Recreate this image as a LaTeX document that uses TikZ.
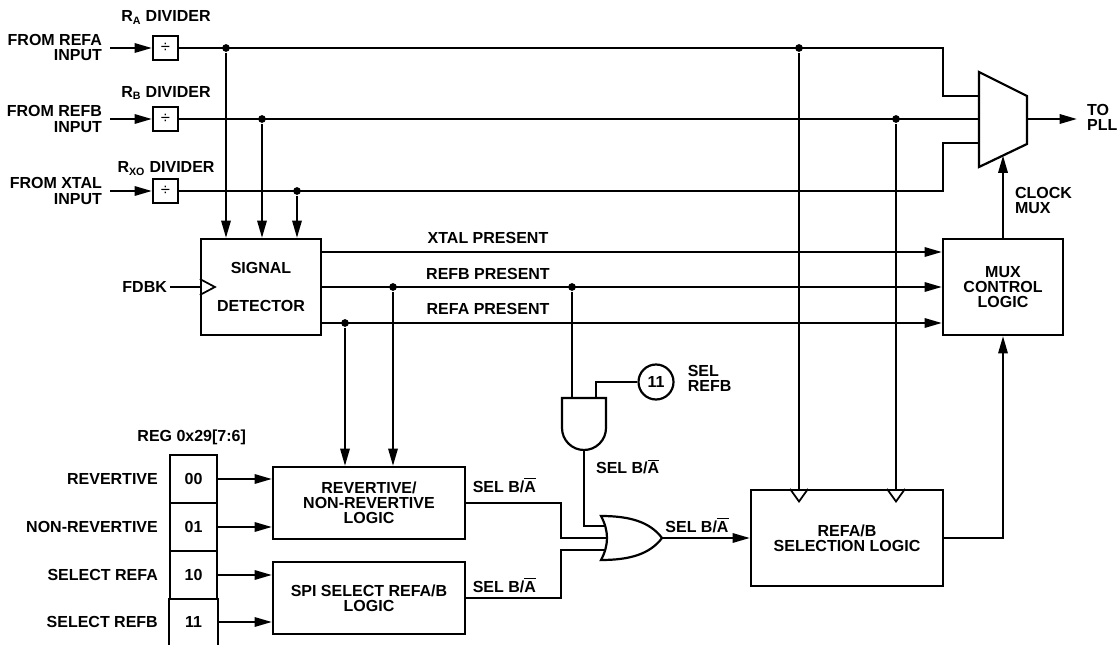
\documentclass[tikz,border=0pt]{standalone}
\usepackage{fontspec}
\setmainfont{Liberation Sans}
\usetikzlibrary{arrows.meta,calc}
\newcommand{\Abar}{\leavevmode\vbox{\hrule height 0.9pt\kern1.3pt\hbox{A}}}
\begin{document}
\begin{tikzpicture}[x=0.75pt,y=-0.75pt,line width=1.65pt,
  every node/.style={font=\fontsize{12}{11.3}\selectfont\bfseries,inner sep=0pt},
  blk/.style={draw,align=center},
  dot/.style={circle,fill,minimum size=5.8pt,inner sep=0pt},
  arr/.style={-{Triangle[length=13pt,width=7pt]}},
  divbox/.style={draw,minimum width=18.75pt,minimum height=18pt,font=\fontsize{12.5}{12.5}\selectfont},
  clk/.style={line width=1.3pt},
  cell/.style={draw,minimum width=35.25pt,minimum height=36pt}]
\useasboundingbox (0,0) rectangle (1117,645);

% ---------- dividers ----------
\node[divbox] (divA) at (165.5,48) {÷};
\node[divbox] (divB) at (165.5,119) {÷};
\node[divbox] (divX) at (165.5,191) {÷};
\node[anchor=base] (lblA) at (166,21.7) {R\textsubscript{A} DIVIDER};
\node[anchor=base] (lblB) at (166,97.3) {R\textsubscript{B} DIVIDER};
\node[anchor=base] (lblX) at (166,172.7) {R\textsubscript{XO} DIVIDER};
\node[align=right,anchor=east,inner xsep=5.25pt] (inA) at (110,47.5) {FROM REFA\\INPUT};
\node[align=right,anchor=east,inner xsep=5.25pt] (inB) at (110,119) {FROM REFB\\INPUT};
\node[align=right,anchor=east,inner xsep=5.25pt] (inX) at (110,191) {FROM XTAL\\INPUT};
\draw[arr] (inA.east |- divA.west) -- (divA.west);
\draw[arr] (inB.east |- divB.west) -- (divB.west);
\draw[arr] (inX.east |- divX.west) -- (divX.west);

% ---------- mux ----------
\draw (979,72) -- (1027,96) -- (1027,144) -- (979,167) -- cycle;
\coordinate (muxA) at (979,96);
\coordinate (muxB) at (979,119);
\coordinate (muxX) at (979,143);
\coordinate (muxO) at (1027,119);
\coordinate (muxS) at (1003,155.5);
\coordinate (cA) at (943,48);
\coordinate (cX) at (943,191);
\draw (divA.east) -- (cA) |- (muxA);
\draw (divB.east) -- (muxB);
\draw (divX.east) -- (cX) |- (muxX);
\node[anchor=west,align=left,inner xsep=6.75pt] (pll) at (1077,117.5) {TO\\PLL};
\draw[arr] (muxO) -- (muxO -| pll.west);

% ---------- junction dots ----------
\node[dot] (jA1) at (226,48) {};
\node[dot] (jA2) at (799,48) {};
\node[dot] (jB1) at (262,119) {};
\node[dot] (jB2) at (896,119) {};
\node[dot] (jX1) at (297,191) {};

% ---------- signal detector ----------
\node[blk,minimum width=90pt,minimum height=72pt] (sd) at (261,287) {SIGNAL\\[17pt]DETECTOR};
\draw[arr] (jA1) -- (jA1 |- sd.north);
\draw[arr] (jB1) -- (jB1 |- sd.north);
\draw[arr] (jX1) -- (jX1 |- sd.north);
\node[anchor=east,inner xsep=1.5pt] (fdbk) at (170,287) {FDBK};
\draw (fdbk.east) -- (sd.west);
\draw[clk] ($(sd.west)+(0,-8)$) -- ($(sd.west)+(15,0)$) -- ($(sd.west)+(0,8)$);

% ---------- mux control logic ----------
\node[blk,minimum width=90pt,minimum height=72pt] (mcl) at (1003,287) {MUX\\CONTROL\\LOGIC};
\draw[arr] ([yshift=26.25pt]sd.east) -- ([yshift=26.25pt]mcl.west);
\draw[arr] (sd.east) -- (mcl.west);
\draw[arr] ([yshift=-27pt]sd.east) -- ([yshift=-27pt]mcl.west);
\node (xp) at (488,238) {XTAL PRESENT};
\node (rbp) at (488,273.5) {REFB PRESENT};
\node (rap) at (488,309) {REFA PRESENT};
\node[dot] (jB3) at (393,287) {};
\node[dot] (jB4) at (572,287) {};
\node[dot] (jA3) at (345,323) {};
\draw[arr] (mcl.north) -- (muxS);
\node[anchor=west,align=left] (cm) at (1014,200.5) {CLOCK\\MUX};

% ---------- revertive / spi ----------
\node[blk,minimum width=144pt,minimum height=54pt] (rev) at (369,503) {REVERTIVE/\\NON-REVERTIVE\\LOGIC};
\node[blk,minimum width=144pt,minimum height=54pt] (spi) at (369,598) {SPI SELECT REFA/B\\LOGIC};
\draw[arr] (jA3) -- (jA3 |- rev.north);
\draw[arr] (jB3) -- (jB3 |- rev.north);

% ---------- register ----------
\node[anchor=base] (reg) at (191.7,441.7) {REG 0x29[7:6]};
\node[cell] (r0) at (193.5,479) {00};
\node[cell] (r1) at (193.5,527) {01};
\node[cell] (r2) at (193.5,575) {10};
\node[minimum width=35.25pt,minimum height=34.5pt] (r3) at (193.5,622) {11};
\draw (r3.north west) -- (r3.south west) (r3.north east) -- (r3.south east);
\draw[arr] (r0.east) -- (r0.east -| rev.west);
\draw[arr] (r1.east) -- (r1.east -| rev.west);
\draw[arr] (r2.east) -- (r2.east -| spi.west);
\draw[arr] (r3.east) -- (r3.east -| spi.west);
\node[anchor=east] (l0) at ([xshift=-7.5pt]r0.west) {REVERTIVE};
\node[anchor=east] (l1) at ([xshift=-7.5pt]r1.west) {NON-REVERTIVE};
\node[anchor=east] (l2) at ([xshift=-7.5pt]r2.west) {SELECT REFA};
\node[anchor=east] (l3) at ([xshift=-7.5pt]r3.west) {SELECT REFB};

% ---------- AND gate ----------
\draw (562,398) -- (606,398) -- (606,428) arc[start angle=0,end angle=-180,radius=16.5pt] -- cycle;
\coordinate (andI1) at (572,398);
\coordinate (andI2) at (596,398);
\coordinate (andO) at (584,450);
\draw (jB4) -- (andI1);
\node[draw,circle,minimum size=26.25pt] (c11) at (656,382) {11};
\draw (andI2) |- (c11.west);
\node[anchor=west,align=left] (selrefb) at (686.7,378.3) {SEL\\REFB};

% ---------- OR gate ----------
\draw (601,516) .. controls (630,516) and (650,522) .. (662,538)
      .. controls (650,554) and (630,560) .. (601,560)
      .. controls (609,545) and (609,531) .. (601,516) -- cycle;
\coordinate (orA) at (605,526);
\coordinate (orB) at (607,538);
\coordinate (orC) at (605,550);
\coordinate (orO) at (662,538);
\coordinate (orbend) at (561,0);
\draw (rev.east) -| (orbend |- orB) -- (orB);
\draw (spi.east) -| (orbend |- orC) -- (orC);
\draw (andO) |- (orA);

% ---------- selection logic ----------
\node[blk,minimum width=144pt,minimum height=72pt] (sel) at (847,538) {REFA/B\\SELECTION LOGIC};
\draw[arr] (orO) -- (sel.west);
\draw (jA2) -- (jA2 |- sel.north);
\draw (jB2) -- (jB2 |- sel.north);
\draw[clk] ($(jA2 |- sel.north)+(-9,0)$) -- ($(jA2 |- sel.north)+(0,12.6)$) -- ($(jA2 |- sel.north)+(9,0)$);
\draw[clk] ($(jB2 |- sel.north)+(-9,0)$) -- ($(jB2 |- sel.north)+(0,12.6)$) -- ($(jB2 |- sel.north)+(9,0)$);
\draw[arr] (sel.east) -| (mcl.south);

% ---------- SEL B/A labels ----------
\node[anchor=base west] (s1) at (471.7,492.2) {SEL B/\Abar};
\node[anchor=base west] (s2) at (471.7,592.2) {SEL B/\Abar};
\node[anchor=base west] (s3) at (595,473.8) {SEL B/\Abar};
\node[anchor=base west] (s4) at (664.3,532.2) {SEL B/\Abar};
\end{tikzpicture}
\end{document}
